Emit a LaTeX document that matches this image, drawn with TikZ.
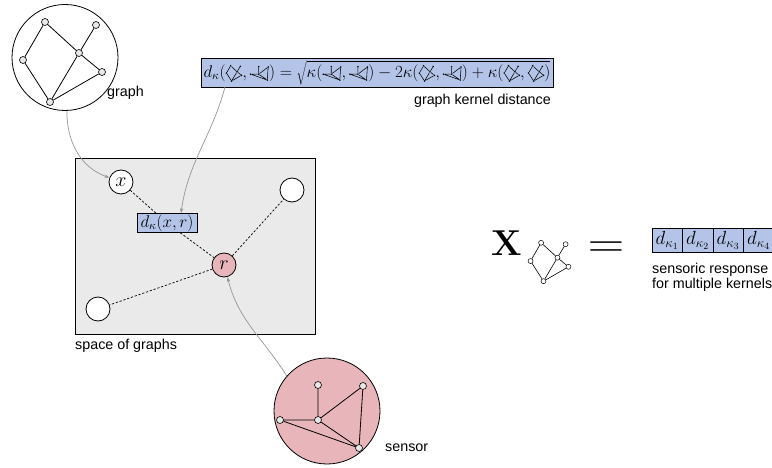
\RequirePackage{fix-cm}
\documentclass[tikz,border=0pt]{standalone}
\usepackage[no-math]{fontspec}
\newfontfamily\labfont{Liberation Sans}
\usetikzlibrary{arrows.meta}
\definecolor{blueF}{RGB}{180,196,232}
\definecolor{pinkF}{RGB}{232,182,186}
\definecolor{spaceF}{RGB}{234,234,234}
\definecolor{vertF}{RGB}{232,232,232}
\definecolor{arrowC}{RGB}{150,150,150}
\newcommand\mfont{\fontsize{17}{20}\selectfont}
\newcommand\pfont{\fontsize{20}{24}\selectfont}
\newcommand\cfont{\fontsize{19}{22}\selectfont}
\tikzset{
  vert/.style={circle,draw=black,fill=vertF,inner sep=0pt,minimum size=7pt,line width=0.6pt,anchor=center},
  svert/.style={circle,draw=black,fill=white,inner sep=0pt,minimum size=5pt,line width=0.5pt,anchor=center},
  idot/.style={circle,draw=none,fill=black,inner sep=0pt,minimum size=1.8pt,anchor=center},
  gedge/.style={draw=black,line width=0.8pt},
  sedge/.style={draw=black,line width=0.6pt},
  iedge/.style={draw=black,line width=0.55pt},
  bigc/.style={circle,draw=black,line width=0.8pt,minimum size=106pt,inner sep=0pt},
  gpt/.style={circle,draw=black,line width=0.8pt,minimum size=24pt,inner sep=0pt},
  bluebox/.style={rectangle,draw=black,fill=blueF,line width=0.8pt,inner sep=1pt},
  cellbox/.style={bluebox,minimum width=30.5pt,minimum height=24pt,inner sep=0pt},
  spacebox/.style={rectangle,draw=black,fill=spaceF,line width=0.8pt,inner sep=0pt},
  lab/.style={font=\labfont\fontsize{14.3}{17}\selectfont,inner sep=0pt},
  dline/.style={draw=black,line width=0.7pt,dash pattern=on 2.2pt off 1.8pt},
  garrow/.style={draw=arrowC,line width=0.7pt,-{Stealth[length=5pt,width=3.5pt]}}
}
% graph with the "graph" shape
\newcommand\graphA[5]{%
  \begin{scope}[shift={#2},scale=#3]
    \node[#4] (#1-1) at (-17.5,-40) {};
    \node[#4] (#1-2) at (33.5,-37) {};
    \node[#4] (#1-3) at (16.5,-9) {};
    \node[#4] (#1-4) at (-39.5,-2) {};
    \node[#4] (#1-5) at (39.5,10) {};
    \node[#4] (#1-6) at (-12.5,40) {};
  \end{scope}
  \draw[#5] (#1-1)--(#1-4) (#1-1)--(#1-3) (#1-2)--(#1-3) (#1-3)--(#1-5)
            (#1-3)--(#1-6) (#1-4)--(#1-6) (#1-5)--(#1-6);
}
% graph with the "sensor" shape
\newcommand\graphB[5]{%
  \begin{scope}[shift={#2},scale=#3]
    \node[#4] (#1-1) at (-3.5,-31.5) {};
    \node[#4] (#1-2) at (41.5,-30.5) {};
    \node[#4] (#1-3) at (-41.5,3.5) {};
    \node[#4] (#1-4) at (-3.5,3.5) {};
    \node[#4] (#1-5) at (37.5,31.5) {};
  \end{scope}
  \draw[#5] (#1-1)--(#1-4) (#1-3)--(#1-4) (#1-4)--(#1-2) (#1-2)--(#1-5)
            (#1-4)--(#1-5) (#1-3)--(#1-5);
}
\newcommand\icA[1]{\tikz[x=1pt,y=-1pt,baseline={([yshift=-0.5ex]current bounding box.center)}]{\graphA{#1}{(0,0)}{0.19}{idot}{iedge}}}
\newcommand\icB[1]{\tikz[x=1pt,y=-1pt,baseline={([yshift=-0.5ex]current bounding box.center)}]{\graphB{#1}{(0,0)}{0.21}{idot}{iedge}}}
\begin{document}
\begin{tikzpicture}[x=1pt,y=-1pt]
\useasboundingbox (0,0) rectangle (772,468);

% space of graphs
\node[spacebox,anchor=north west,minimum width=240pt,minimum height=176pt] (space) at (75,158) {};
\node[lab,anchor=base west] (spacelab) at (75,349) {space of graphs};

% graph
\node[bigc,fill=white] (graph) at (65,57.5) {};
\graphA{g}{(62.5,62)}{1}{vert}{gedge}
\node[lab,anchor=base west] (glab) at (107,97) {graph};

% formula
\node[bluebox,minimum width=352pt,minimum height=29pt] (formula) at (377,72.5)
  {\mfont$d_\kappa(\icA{ia},\icB{ib})=\sqrt{\kappa(\icB{ic},\icB{id})-2\kappa(\icA{ie},\icB{if})+\kappa(\icA{ig},\icA{ih})}$};
\node[lab,anchor=base east] (flab) at (551,105) {graph kernel distance};

% points
\node[gpt,fill=white] (x) at (121,182) {\pfont$x$};
\node[gpt,fill=pinkF] (r) at (224,265) {\pfont$r$};
\node[gpt,fill=white] (w1) at (292,190) {};
\node[gpt,fill=white] (w2) at (98,309) {};
\node[bluebox,minimum width=60pt,minimum height=18pt] (dk) at (167,223) {\mfont$d_\kappa(x,r)$};
\draw[dline] (x) -- (dk);
\draw[dline] (dk) -- (r);
\draw[dline] (r) -- (w1);
\draw[dline] (r) -- (w2);

% sensor
\node[bigc,fill=pinkF] (sensor) at (327,411) {};
\graphB{s}{(321.5,416.5)}{1}{vert}{gedge}
\node[lab,anchor=base west] (slab) at (385,451) {sensor};

% arrows
\coordinate (fa) at (225,87);
\draw[garrow] (graph.-88) to[out=-90,in=160] (x.160);
\draw[garrow] (fa) to[out=-105,in=82] ([xshift=14pt]dk.north);
\draw[garrow] (sensor.139) to[out=122,in=-76] (r.-74);

% right side
\node[anchor=base west,inner sep=0pt] (X) at (491,255) {\fontsize{36}{40}\selectfont$\mathbf{X}$};
\graphA{xs}{(549.5,262)}{0.48}{svert}{sedge}
\node[anchor=base,inner sep=0pt] (eq) at (606,258) {\scalebox{1.15}[1]{\fontsize{44}{48}\selectfont$=$}};
\node[cellbox] (v1) at (667.25,240) {\cfont$d_{\kappa_1}$};
\node[cellbox] (v2) at (697.75,240) {\cfont$d_{\kappa_2}$};
\node[cellbox] (v3) at (728.25,240) {\cfont$d_{\kappa_3}$};
\node[cellbox] (v4) at (758.75,240) {\cfont$d_{\kappa_4}$};
\node[lab,anchor=base west] (vlab1) at (652,273) {sensoric response};
\node[lab,anchor=base west] (vlab2) at (652,288) {for multiple kernels};
\end{tikzpicture}
\end{document}
